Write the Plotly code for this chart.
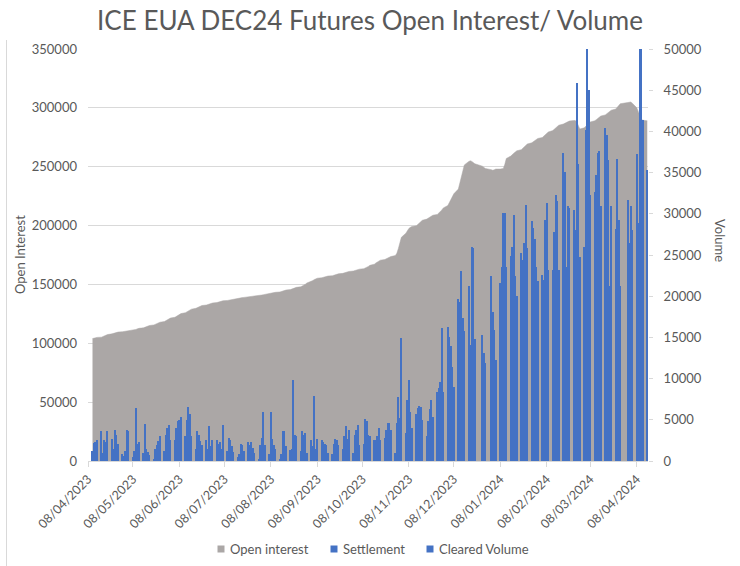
import pandas as pd
import plotly.graph_objects as go

# ---- data ----
holidays = ["2023-12-25", "2023-12-26", "2024-01-01", "2024-03-29", "2024-04-01"]
dates = [d for d in pd.bdate_range("2023-04-11", "2024-04-15") if d.strftime("%Y-%m-%d") not in holidays]

open_interest = [
    104000, 104300, 104500, 105000,
    105200, 105800, 106300, 106900, 107400,
    108000, 108400, 108900, 109200, 109500,
    109800, 110000, 110200, 110500, 110700,
    111000, 111400, 111800, 112300, 112700,
    113100, 113600, 114000, 114600, 115100,
    115600, 116100, 116700, 117300, 117900,
    118500, 119200, 120000, 120700, 121400,
    122100, 122900, 123700, 124400, 125200,
    126000, 126800, 127500, 128300, 129000,
    129700, 130400, 131000, 131600, 132100,
    132500, 133000, 133400, 133800, 134200,
    134600, 135000, 135400, 135800, 136100,
    136400, 136700, 137000, 137300, 137600,
    137900, 138200, 138500, 138800, 139000,
    139200, 139500, 139700, 140000, 140200,
    140400, 140700, 141000, 141300, 141600,
    141900, 142300, 142600, 143000, 143300,
    143600, 144000, 144400, 144800, 145200,
    145600, 146000, 146500, 147000, 147500,
    148000, 148600, 149300, 150200, 151200,
    152300, 153300, 154200, 154800, 155300,
    155700, 156100, 156500, 156800, 157100,
    157400, 157800, 158200, 158600, 159000,
    159400, 159800, 160200, 160600, 161000,
    161400, 161800, 162200, 162600, 163000,
    163400, 163900, 164500, 165300, 166200,
    167200, 168200, 169100, 169900, 170600,
    171200, 171800, 172400, 173000, 173700,
    174500, 176500, 180500, 185500, 190000,
    193500, 196000, 197500, 198500, 199200,
    199800, 200800, 202000, 203300, 204500,
    205500, 206300, 207200, 208000, 208800,
    209500, 210500, 211800, 213200, 215000,
    217000, 219500, 222000, 224500, 227000,
    231000, 236000, 241000, 246500, 251500,
    254500, 255000, 254500, 253500, 252500,
    250500, 249500, 248500,
    247500, 247000, 247500, 248000,
    248000, 248200, 248400, 252000, 257000,
    259000, 260500, 261500, 262500, 263500,
    264500, 265800, 267000, 268200, 269300,
    270300, 271300, 272300, 273200, 274000,
    274800, 275800, 277000, 278300, 279500,
    280700, 282000, 283200, 284300, 285300,
    286200, 287000, 287700, 288300, 288800,
    289200, 289300, 288000, 285000, 282000,
    283000, 284500, 286000, 287000, 288000,
    289000, 290000, 291000, 292000, 293000,
    294000, 295000, 296000, 297000, 298000,
    299000, 300500, 302000, 303500,
    304500, 305000, 305000, 304000,
    300000, 297000, 293000, 290500, 289500,
    289000,
]

cleared_volume = [
    1200, 2200, 2300, 2500,
    3600, 1000, 2600, 2300, 3600,
    2700, 1500, 3800, 3100, 2100,
    900, 600, 1200, 3800, 3600,
    500, 1200, 6400, 2100, 2300,
    1000, 4500, 1500, 1100, 700,
    300, 1500, 1900, 2400, 3000,
    1200, 3200, 4000, 4400, 2600,
    2500, 4000, 4800, 5000, 5400,
    3000, 5000, 6500, 5700, 3000,
    1500, 3600, 3200, 2400, 2000,
    2600, 1400, 4200, 1800, 2500,
    2600, 2100, 2300, 1500, 4400,
    1200, 2800, 2600, 1800, 1100,
    500, 900, 2100, 1900, 1200,
    2300, 2000, 2300, 1600, 1000,
    300, 1900, 2800, 6000, 2000,
    900, 6000, 2700, 1900, 1500,
    300, 900, 3600, 3600, 1800,
    1300, 1500, 9800, 3200, 3000,
    1200, 3600, 3200, 3400, 1000,
    2500, 1800, 7900, 1500, 2700,
    2500, 2300, 2100, 1900, 1000,
    800, 2100, 2700, 2500, 1900,
    1500, 3000, 4200, 2700, 3800,
    1000, 3200, 3800, 4400, 2000,
    2100, 5100, 4900, 3200, 3000,
    2500, 2500, 3000, 4000, 2600,
    2800, 3800, 4600, 4600, 3800,
    1000, 4600, 7800, 5200, 14900,
    3400, 7400, 9800, 6000, 4000,
    5700, 6400, 6700, 6500, 5000,
    3000, 4900, 6300, 7400, 5300,
    8400, 8800, 9600, 16100, 8400,
    16300, 15100, 13900, 11400, 9000,
    19700, 19300, 23000, 17400, 15800,
    21200, 14100, 26000, 25800, 14800,
    15300, 13100, 11900,
    22400, 18100, 15900, 12200,
    21600, 23600, 30100, 30100, 23600,
    24900, 26000, 29900, 22400, 20000,
    25200, 24400, 26400, 31100, 25800,
    29100, 28300, 26900, 23600, 21900,
    22600, 22000, 29300, 31300, 23200,
    23200, 27800, 32300, 31500, 23200,
    37400, 35100, 23600, 30900, 30700,
    30500, 28000, 45900, 36100, 24800,
    26000, 40200, 52000, 45000, 32300,
    32700, 34700, 37400, 37600, 30900,
    40400, 39600, 36500, 21200, 30900,
    28100, 36700, 29300, 21200,
    31700, 26400, 30900, 28000,
    37200, 28900, 52000, 52000, 41400,
    35300,
]

oi_ticks = [0, 50000, 100000, 150000, 200000, 250000, 300000, 350000]
vol_ticks = [0, 5000, 10000, 15000, 20000, 25000, 30000, 35000, 40000, 45000, 50000]
legend_names = ["Open interest", "Settlement", "Cleared Volume"]

TXT = "#595959"
FONT = "Lato"
GRAY = "#ABA7A6"
BLUE = "#4472C4"
legend_colors = [GRAY, BLUE, BLUE]

# plot-area pixel geometry
L, R, T, B = 88, 648, 49, 461
W, H = R - L, B - T
def px(x):
    return (x - L) / W
def py(y):
    return (B - y) / H

fig = go.Figure()
fig.add_trace(go.Scatter(
    x=dates, y=open_interest, name="Open interest", mode="lines",
    line=dict(color=GRAY, width=0.5), fill="tozeroy", fillcolor=GRAY,
    yaxis="y", showlegend=False,
))
fig.add_trace(go.Bar(
    x=dates, y=cleared_volume, name="Cleared Volume",
    marker=dict(color=BLUE, line=dict(width=0)), yaxis="y2", showlegend=False,
))

# custom legend (small squares + text, like the original)
legend_sq_x = [221, 334, 430]
legend_txt_x = [228, 341, 437]
legend_y = 549
shapes = [
    dict(type="line", xref="paper", yref="paper",
         x0=px(6.5), x1=px(6.5), y0=py(40), y1=py(566),
         line=dict(color="#D9D9D9", width=1)),
]
annotations = [
    dict(text="Open Interest", xref="paper", yref="paper",
         x=px(20), y=py(255), showarrow=False,
         textangle=-90, font=dict(size=13, color=TXT), xanchor="center", yanchor="middle"),
    dict(text="Volume", xref="paper", yref="paper",
         x=px(720), y=py(240), showarrow=False,
         textangle=90, font=dict(size=13, color=TXT), xanchor="center", yanchor="middle"),
]
for name, col, sx, tx in zip(legend_names, legend_colors, legend_sq_x, legend_txt_x):
    shapes.append(dict(type="rect", xref="paper", yref="paper",
                       x0=px(sx - 3.5), x1=px(sx + 3.5), y0=py(legend_y + 3.5), y1=py(legend_y - 3.5),
                       fillcolor=col, line=dict(width=0)))
    annotations.append(dict(text=name, xref="paper", yref="paper", x=px(tx), y=py(legend_y),
                            xanchor="left", yanchor="middle", showarrow=False,
                            font=dict(size=13, color=TXT)))

fig.update_layout(
    width=740, height=566,
    margin=dict(l=L, r=740 - R, t=T, b=566 - B),
    paper_bgcolor="white", plot_bgcolor="white",
    font=dict(family=FONT, color=TXT, size=13),
    title=dict(text="ICE EUA DEC24 Futures Open Interest/ Volume",
               x=0.5, xref="container", xanchor="center",
               y=1 - 21 / 566, yref="container", yanchor="middle",
               font=dict(family=FONT, size=26, color=TXT)),
    barmode="overlay", bargap=0,
    showlegend=False,
    xaxis=dict(
        type="date", range=["2023-04-08", "2024-04-15 12:00"],
        tick0="2023-04-08", dtick="M1", tickformat="%d/%m/%Y", tickangle=-45,
        showgrid=False, showline=True, linecolor="#D9D9D9", linewidth=1,
        ticks="outside", ticklen=5, tickcolor="#D9D9D9", automargin=False,
        tickfont=dict(size=12.5, color=TXT),
    ),
    yaxis=dict(
        range=[0, 350000], tickvals=oi_ticks, tickformat="d", automargin=False,
        showgrid=True, gridcolor="#D9D9D9", zeroline=False, showline=False,
        tickfont=dict(size=13, color=TXT), ticks="", ticklabelstandoff=10,
    ),
    yaxis2=dict(
        range=[0, 50000], tickvals=vol_ticks, tickformat="d", automargin=False,
        overlaying="y", side="right", showgrid=False, zeroline=False, showline=False,
        tickfont=dict(size=13, color=TXT), ticks="outside", ticklen=4, tickcolor="#D9D9D9",
        ticklabelstandoff=8,
    ),
    annotations=annotations,
    shapes=shapes,
)

fig.write_html("out.html")
